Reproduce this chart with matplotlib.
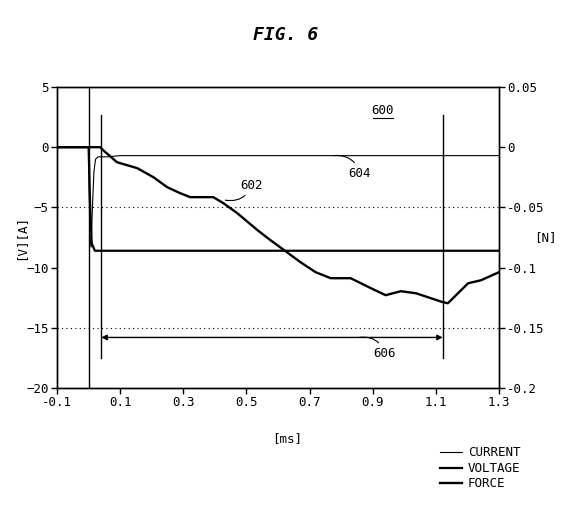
import matplotlib
matplotlib.use('Agg')
import matplotlib.pyplot as plt
from matplotlib.lines import Line2D

# time axis [ms] and traces
cur_t = [-0.1, 0.0, 0.004, 0.008, 0.012, 0.017, 0.022, 0.03, 0.06, 0.1, 1.3]
cur_v = [0.0, 0.0, -7.5, -8.3, -5.0, -2.0, -1.0, -0.8, -0.8, -0.7, -0.7]

volt_t = [-0.1, 0.0, 0.005, 0.01, 0.02, 1.3]
volt_v = [0.0, 0.0, -5.0, -8.0, -8.6, -8.6]

force_t = [-0.1, 0.037, 0.046, 0.090, 0.154, 0.205, 0.249, 0.290, 0.322, 0.395,
           0.427, 0.471, 0.535, 0.576, 0.624, 0.671, 0.719, 0.767, 0.830, 0.894,
           0.941, 0.989, 1.037, 1.084, 1.122, 1.138, 1.202, 1.243, 1.3]
force_n = [0.0, 0.0, -0.0025, -0.0125, -0.0174, -0.0249, -0.0332, -0.0382, -0.0415, -0.0415,
           -0.0465, -0.0548, -0.0689, -0.0772, -0.0864, -0.0955, -0.1038, -0.1088, -0.1088, -0.1171,
           -0.1229, -0.1196, -0.1213, -0.1254, -0.1287, -0.1296, -0.113, -0.1105, -0.1038]

x_ticks = [-0.1, 0.1, 0.3, 0.5, 0.7, 0.9, 1.1, 1.3]
y_ticks = [5, 0, -5, -10, -15, -20]
n_ticks = [0.05, 0, -0.05, -0.1, -0.15, -0.2]
n_labels = ['0.05', '0', '-0.05', '-0.1', '-0.15', '-0.2']

# markers: trigger, window start/end
t_trig = 0.0
t_start = 0.04
t_end = 1.122

plt.rcParams['font.family'] = ['DejaVu Sans Mono']

fig = plt.figure(figsize=(5.72, 5.24), dpi=100)
ax = fig.add_axes([0.0997, 0.2595, 0.7727, 0.5745])
ax2 = ax.twinx()

ax.plot(cur_t, cur_v, color='black', lw=0.8)
ax.plot(volt_t, volt_v, color='black', lw=1.6)
ax2.plot(force_t, force_n, color='black', lw=1.7)

ax.set_xlim(-0.1, 1.3)
ax.set_ylim(-20, 5)
ax2.set_ylim(-0.2, 0.05)

ax.set_xticks(x_ticks)
ax.set_xticklabels([f'{v:g}' for v in x_ticks])
ax.set_yticks(y_ticks)
ax2.set_yticks(n_ticks)
ax2.set_yticklabels(n_labels)

for a in (ax, ax2):
    a.tick_params(direction='out', length=4, width=1, labelsize=9, pad=2)
    for s in a.spines.values():
        s.set_linewidth(1)

# dotted grid only at -5 and -15
for yv in (-5, -15):
    ax.axhline(yv, color='black', ls=(0, (1, 3)), lw=0.8)

ax.axvline(t_trig, color='black', lw=1)
ax.plot([t_start, t_start], [2.7, -17.5], color='black', lw=1)
ax.plot([t_end, t_end], [2.7, -17.5], color='black', lw=1)

ax.annotate('', xy=(t_start, -15.8), xytext=(t_end, -15.8),
            arrowprops=dict(arrowstyle='<|-|>', lw=1, color='black',
                            mutation_scale=8, shrinkA=0, shrinkB=0))

ax.text(0.932, 3.05, '600', fontsize=9, ha='center', va='center')
ax.plot([0.9, 0.964], [2.4, 2.4], color='black', lw=0.8)

ax.annotate('602', xy=(0.433, -4.4), xytext=(0.481, -3.15), fontsize=9,
            ha='left', va='center',
            arrowprops=dict(arrowstyle='-', lw=0.8, color='black',
                            connectionstyle='arc3,rad=-0.4', shrinkA=1, shrinkB=0))
ax.annotate('604', xy=(0.776, -0.7), xytext=(0.824, -2.15), fontsize=9,
            ha='left', va='center',
            arrowprops=dict(arrowstyle='-', lw=0.8, color='black',
                            connectionstyle='arc3,rad=0.4', shrinkA=1, shrinkB=0))
ax.annotate('606', xy=(0.856, -15.8), xytext=(0.903, -17.1), fontsize=9,
            ha='left', va='center',
            arrowprops=dict(arrowstyle='-', lw=0.8, color='black',
                            connectionstyle='arc3,rad=0.4', shrinkA=1, shrinkB=0))

ax.set_xlabel('[ms]', fontsize=9)
ax.xaxis.set_label_coords(0.52, -0.145)
ax.set_ylabel('[V][A]', fontsize=9)
ax.yaxis.set_label_coords(-0.068, 0.5)
ax2.set_ylabel('[N]', fontsize=9, rotation=0, va='center', ha='center')
ax2.yaxis.set_label_coords(1.104, 0.5)

fig.text(0.5, 0.933, 'FIG. 6', fontsize=13, style='italic',
         weight='bold', ha='center', va='center')

handles = [Line2D([], [], color='black', lw=0.8),
           Line2D([], [], color='black', lw=1.6),
           Line2D([], [], color='black', lw=1.7)]
fig.legend(handles, ['CURRENT', 'VOLTAGE', 'FORCE'], loc='upper left',
           bbox_to_anchor=(0.769, 0.148), frameon=False, fontsize=9,
           handlelength=1.75, handletextpad=0.5, labelspacing=0.2,
           borderpad=0, borderaxespad=0)

fig.savefig('out.png', dpi=100)
